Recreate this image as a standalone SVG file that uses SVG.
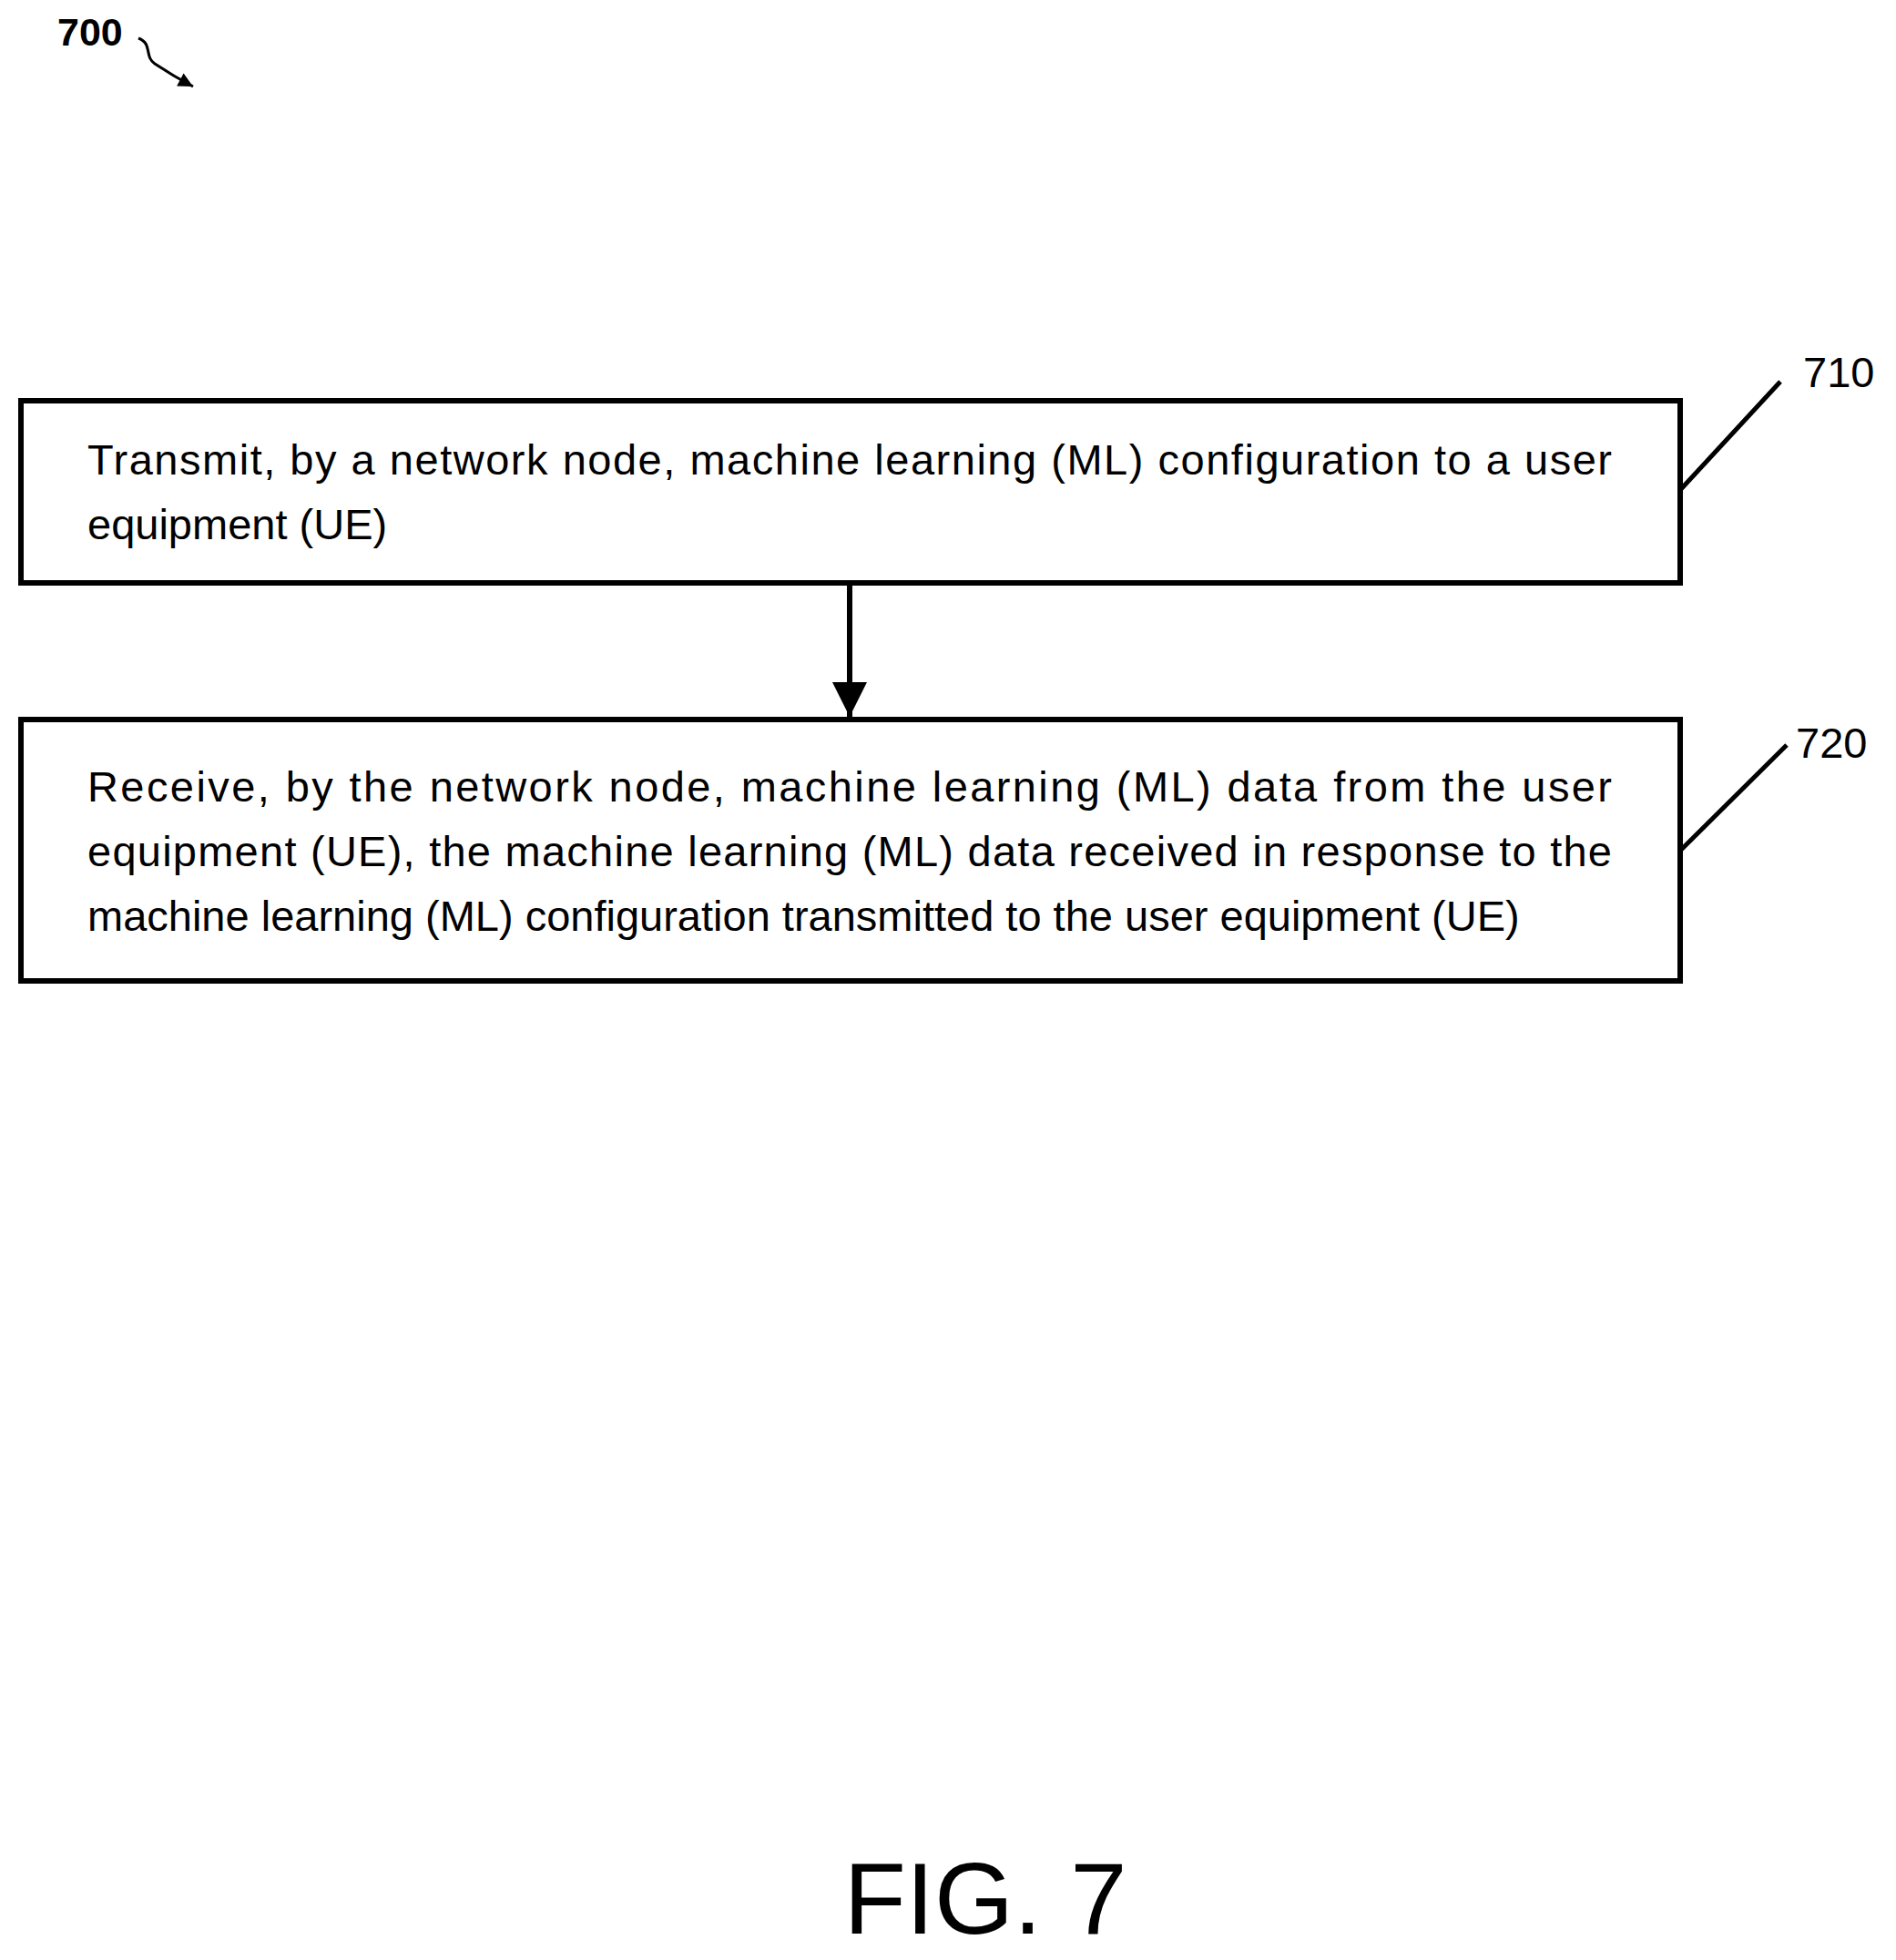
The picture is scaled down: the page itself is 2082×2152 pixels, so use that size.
<svg xmlns="http://www.w3.org/2000/svg" width="2082" height="2152" viewBox="0 0 2082 2152">
<style>
.box{fill:#fff;stroke:#000;stroke-width:6}
.t{font-family:"Liberation Sans",Arial,sans-serif;font-size:47px;fill:#000}
.ln{stroke:#000;stroke-width:5;fill:none}
</style>
<defs>
<marker id="sm" viewBox="0 0 10 10" refX="10" refY="5" markerWidth="20" markerHeight="16" markerUnits="userSpaceOnUse" orient="auto"><path d="M0,0 L10,5 L0,10 z" fill="#000"/></marker>
<marker id="big" viewBox="0 0 10 10" refX="10" refY="5" markerWidth="50" markerHeight="38" markerUnits="userSpaceOnUse" orient="auto"><path d="M0,0 L10,5 L0,10 z" fill="#000"/></marker>
</defs>
<rect width="2082" height="2152" fill="#fff"/>
<g id="label700">
<text x="63" y="50" class="t" style="font-weight:bold;font-size:43px">700</text>
<path d="M152,42 C168,48 158,62 170,70 C182,78 195,86 212,95" class="ln" style="stroke-width:3" marker-end="url(#sm)"/>
</g>
<g id="node710">
<rect class="box" x="23" y="440" width="1822" height="200"/>
<text class="t" x="96" y="521" textLength="1674" lengthAdjust="spacing">Transmit, by a network node, machine learning (ML) configuration to a user</text>
<text class="t" x="96" y="592">equipment (UE)</text>
<line class="ln" x1="1845" y1="538" x2="1955" y2="419"/>
<text class="t" x="1980" y="425">710</text>
</g>
<g id="node720">
<rect class="box" x="23" y="790" width="1822" height="287"/>
<text class="t" x="96" y="880" textLength="1674" lengthAdjust="spacing">Receive, by the network node, machine learning (ML) data from the user</text>
<text class="t" x="96" y="951" textLength="1674" lengthAdjust="spacing">equipment (UE), the machine learning (ML) data received in response to the</text>
<text class="t" x="96" y="1022">machine learning (ML) configuration transmitted to the user equipment (UE)</text>
<line class="ln" x1="1845" y1="934" x2="1962" y2="818"/>
<text class="t" x="1972" y="832">720</text>
</g>
<g id="connectors">
<line class="ln" x1="933" y1="640" x2="933" y2="787" style="stroke-width:6" marker-end="url(#big)"/>
</g>
<text x="1082" y="2123" text-anchor="middle" style="font-family:'Liberation Sans',Arial,sans-serif;font-size:112px">FIG. 7</text>
</svg>
